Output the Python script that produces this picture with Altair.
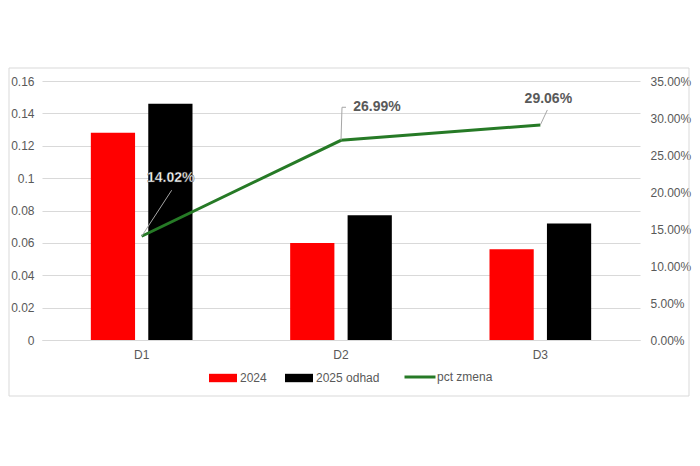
import altair as alt
import pandas as pd

categories = ["D1", "D2", "D3"]
values_2024 = [0.128, 0.060, 0.056]
values_2025 = [0.146, 0.077, 0.072]
pct_change = [0.1402, 0.2699, 0.2906]
series_names = ["2024", "2025 odhad"]
line_name = "pct zmena"
left_ticks = [0, 0.02, 0.04, 0.06, 0.08, 0.1, 0.12, 0.14, 0.16]
right_ticks = [0, 0.05, 0.10, 0.15, 0.20, 0.25, 0.30, 0.35]

FONT = "Liberation Sans"
GRAY = "#595959"
GREEN = "#267a26"

bars_df = pd.DataFrame({
    "cat": categories * 2,
    "series": [series_names[0]] * 3 + [series_names[1]] * 3,
    "value": values_2024 + values_2025,
})
line_df = pd.DataFrame({"cat": categories, "pct": pct_change, "series": [line_name] * 3})

x_enc = alt.X("cat:N", sort=categories, title=None,
              scale=alt.Scale(paddingInner=0.49, paddingOuter=0.245),
              axis=alt.Axis(labelAngle=0, ticks=False, domainColor="#d9d9d9",
                            labelPadding=9, grid=False))

bars = alt.Chart(bars_df).mark_bar().encode(
    x=x_enc,
    xOffset=alt.XOffset("series:N", sort=series_names,
                        scale=alt.Scale(paddingInner=0.23, paddingOuter=0)),
    y=alt.Y("value:Q", title=None,
            scale=alt.Scale(domain=[0, 0.16], nice=False),
            axis=alt.Axis(values=left_ticks, format="~g", domain=False, ticks=False,
                          labelPadding=8, gridColor="#d9d9d9", orient="left")),
    color=alt.Color("series:N", sort=series_names,
                    scale=alt.Scale(domain=series_names, range=["#ff0000", "#000000"]),
                    legend=alt.Legend(title=None, orient="none", direction="horizontal",
                                      legendX=167, legendY=283,
                                      symbolType="M-1,-0.3L1,-0.3L1,0.3L-1,0.3Z",
                                      symbolSize=784, symbolStrokeWidth=0,
                                      labelOffset=3, columnPadding=18)),
)

y_pct = alt.Y("pct:Q", title=None, scale=alt.Scale(domain=[0, 0.35], nice=False),
              axis=alt.Axis(values=right_ticks, format=".2%", orient="right", grid=False,
                            domain=False, ticks=False, labelPadding=10))

line = alt.Chart(line_df).mark_line(strokeWidth=3).encode(
    x=alt.X("cat:N", sort=categories),
    y=y_pct,
    stroke=alt.Stroke("series:N",
                      scale=alt.Scale(domain=[line_name], range=[GREEN]),
                      legend=alt.Legend(title=None, orient="none", direction="horizontal",
                                        legendX=361, legendY=279,
                                        symbolType="stroke", symbolSize=961,
                                        symbolStrokeWidth=3, labelOffset=0)),
)

# label offsets per point (pixels)
label_specs = [
    ("D1", 29, -58, "white", "#2a2a2a", 0.4),
    ("D2", 36, -33, GRAY, None, 0),
    ("D3", 8, -26, GRAY, None, 0),
]

label_layers = []
for cat, dx, dy, fill, stroke, sw in label_specs:
    kw = dict(dx=dx, dy=dy, fontSize=14, fontWeight="bold", font=FONT, color=fill)
    if stroke:
        kw.update(stroke=stroke, strokeWidth=sw)
    label_layers.append(
        alt.Chart(line_df).transform_filter(alt.datum.cat == cat).mark_text(**kw).encode(
            x=alt.X("cat:N", sort=categories),
            y=y_pct,
            text=alt.Text("pct:Q", format=".2%"),
        )
    )

# leader lines: (cat, xOffset, yOffset, x2Offset, y2Offset)
leader_specs = [
    ("D1", 0, 0, 30, -46),
    ("D2", 0, 0, 1, -33),
    ("D2", 1, -33, 5, -33),
    ("D3", 0, 0, 7, -15),
]
leader_layers = []
for cat, xo, yo, x2o, y2o in leader_specs:
    leader_layers.append(
        alt.Chart(line_df).transform_filter(alt.datum.cat == cat).mark_rule(
            color="#a6a6a6", strokeWidth=1,
            xOffset=xo, yOffset=yo, x2Offset=x2o, y2Offset=y2o,
        ).encode(
            x=alt.X("cat:N", sort=categories),
            x2=alt.X2("cat"),
            y=y_pct,
            y2=alt.Y2("pct"),
        )
    )

pct_layer = alt.layer(line, *leader_layers, *label_layers)

border = alt.Chart(pd.DataFrame({"a": [0]})).mark_rect(
    fill=None, stroke="#d9d9d9", strokeWidth=1
).encode(
    x=alt.value(-33), x2=alt.value(647), y=alt.value(-13), y2=alt.value(315)
)

chart = alt.layer(border, bars, pct_layer).resolve_scale(
    y="independent", color="independent"
).resolve_axis(y="independent").properties(
    width=598, height=259,
    padding={"left": 34, "top": 73, "right": 52, "bottom": 60},
    autosize=alt.AutoSizeParams(type="none"),
).configure_view(stroke=None).configure_axis(
    labelFont=FONT, labelFontSize=12, labelColor=GRAY
).configure_legend(
    labelFont=FONT, labelFontSize=12, labelColor=GRAY
)

chart.save("out.html", embed_options={"renderer": "svg", "actions": False})
